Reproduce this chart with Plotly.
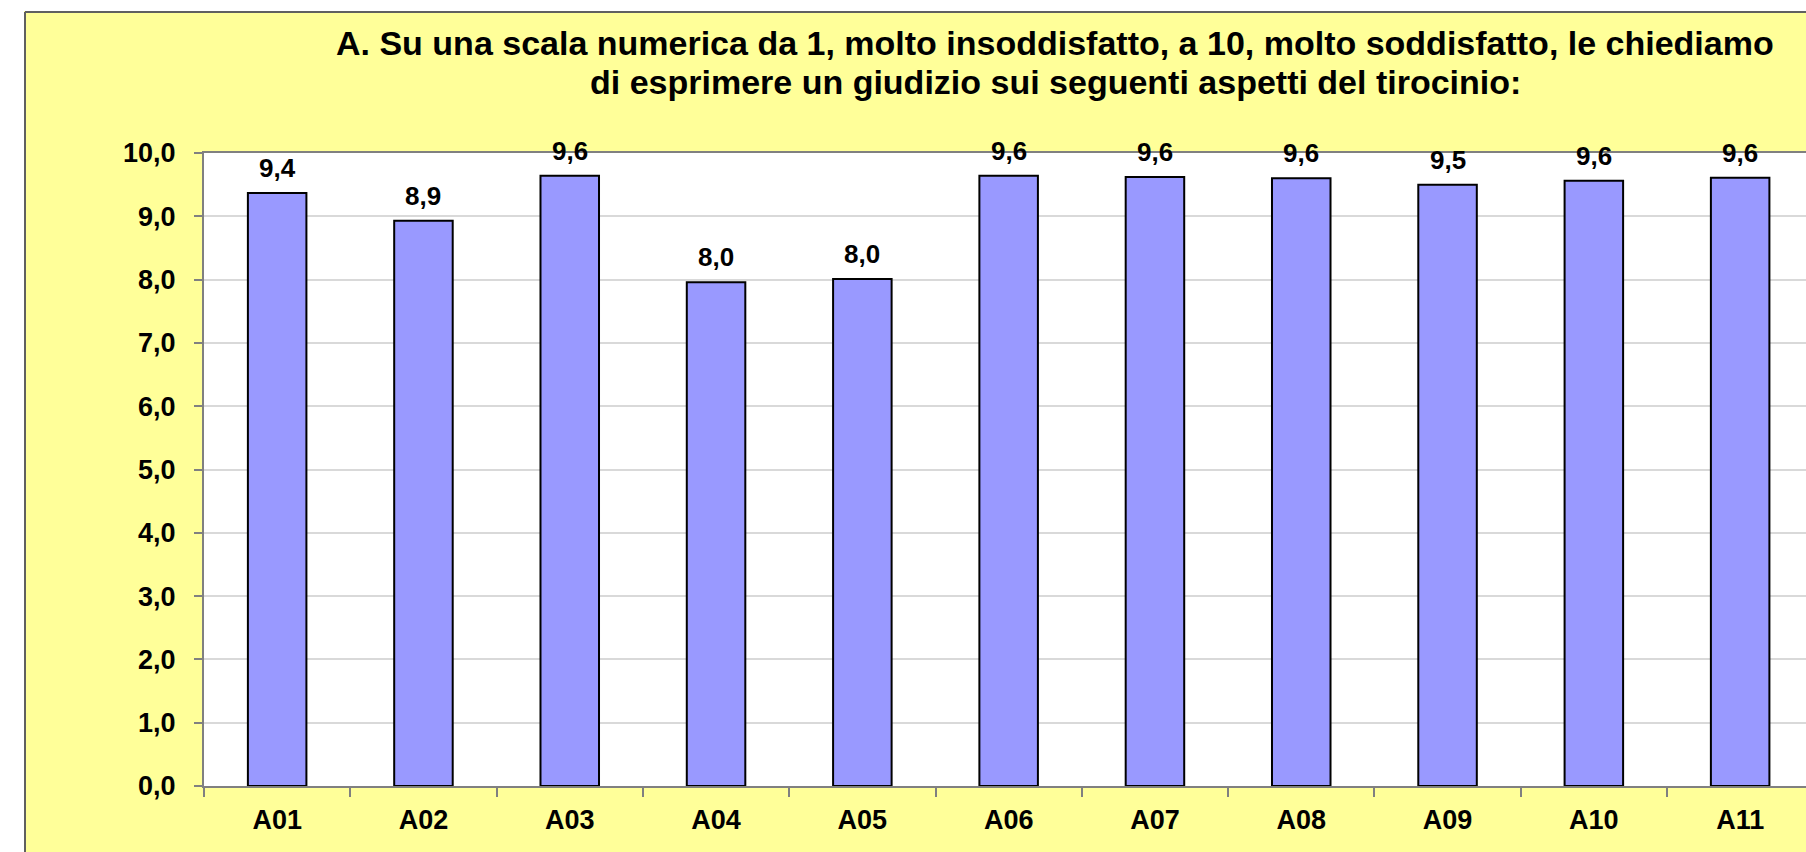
import plotly.graph_objects as go

categories = ["A01", "A02", "A03", "A04", "A05", "A06", "A07", "A08", "A09", "A10", "A11"]
values = [9.37, 8.93, 9.64, 7.96, 8.01, 9.64, 9.62, 9.60, 9.50, 9.56, 9.61]
y_ticks = [0, 1, 2, 3, 4, 5, 6, 7, 8, 9, 10]
title_lines = [
    "A. Su una scala numerica da 1, molto insoddisfatto, a 10, molto soddisfatto, le chiediamo",
    "di esprimere un giudizio sui seguenti aspetti del tirocinio:",
]

W, H = 1806, 852
PX0, PY0, PY1 = 204, 153, 786
PX1 = W
CAT_PX = 146.3           # pixels per category in the reference
L, R, T, B = PX0, 0, PY0, H - PY1

def px_x(p):
    return (p - PX0) / (PX1 - PX0)

def px_y(p):
    return (PY1 - p) / (PY1 - PY0)

FONT = "Liberation Sans, Arial, sans-serif"

fig = go.Figure()
fig.add_trace(go.Bar(
    x=categories, y=values, width=0.4,
    marker=dict(color="#9999FF", line=dict(color="#000000", width=2)),
    hoverinfo="x+y",
))

annotations = []
for c, v in zip(categories, values):
    annotations.append(dict(
        x=c, y=v, xref="x", yref="y", text=f"{v:.1f}".replace(".", ","),
        showarrow=False, yanchor="middle", yshift=25,
        font=dict(family=FONT, size=26, color="#000000", weight="bold"),
    ))
for line, ypix in zip(title_lines, [43, 82]):
    annotations.append(dict(
        x=px_x(1055), y=px_y(ypix), xref="paper", yref="paper", text=line,
        showarrow=False, xanchor="center", yanchor="middle", align="center",
        font=dict(family=FONT, size=34, color="#000000", weight="bold"),
    ))

shapes = [
    dict(type="line", xref="paper", yref="paper", x0=px_x(25), x1=px_x(25), y0=px_y(H + 10), y1=px_y(12),
         line=dict(color="#606060", width=2), layer="above"),
    dict(type="line", xref="paper", yref="paper", x0=px_x(25), x1=px_x(W + 20), y0=px_y(12), y1=px_y(12),
         line=dict(color="#606060", width=2), layer="above"),
    dict(type="rect", xref="paper", yref="paper", x0=px_x(-20), x1=px_x(24), y0=px_y(H + 10), y1=px_y(-20),
         fillcolor="#FFFFFF", line=dict(width=0), layer="above"),
    dict(type="rect", xref="paper", yref="paper", x0=px_x(-20), x1=px_x(W + 20), y0=px_y(11), y1=px_y(-20),
         fillcolor="#FFFFFF", line=dict(width=0), layer="above"),
]

fig.update_layout(
    width=W, height=H,
    margin=dict(l=L, r=R, t=T, b=B, pad=0, autoexpand=False),
    paper_bgcolor="#FFFF99",
    plot_bgcolor="#FFFFFF",
    separators=",.",
    showlegend=False,
    font=dict(family=FONT, color="#000000"),
    annotations=annotations,
    shapes=shapes,
)
fig.update_xaxes(
    type="category", range=[-0.5, -0.5 + (W - L - R) / CAT_PX],
    showline=True, linecolor="#808080", linewidth=2, mirror=True,
    ticks="outside", tickson="boundaries", ticklen=9, tickcolor="#808080", tickwidth=2,
    showgrid=False,
    tickfont=dict(family=FONT, size=27, color="#000000", weight="bold"),
    ticklabelstandoff=9,
)
fig.update_yaxes(
    range=[0, 10], tickvals=y_ticks, tickformat=".1f",
    showline=True, linecolor="#808080", linewidth=2,
    ticks="outside", ticklen=8, tickcolor="#808080", tickwidth=2,
    showgrid=True, gridcolor="#D9D9D9", gridwidth=1.5,
    zeroline=False,
    tickfont=dict(family=FONT, size=27, color="#000000", weight="bold"),
    ticklabelstandoff=13,
)

fig.write_html(
    "out.html",
    config={"displayModeBar": False},
    post_script="document.body.style.margin='0px';document.body.style.overflow='hidden';",
)
